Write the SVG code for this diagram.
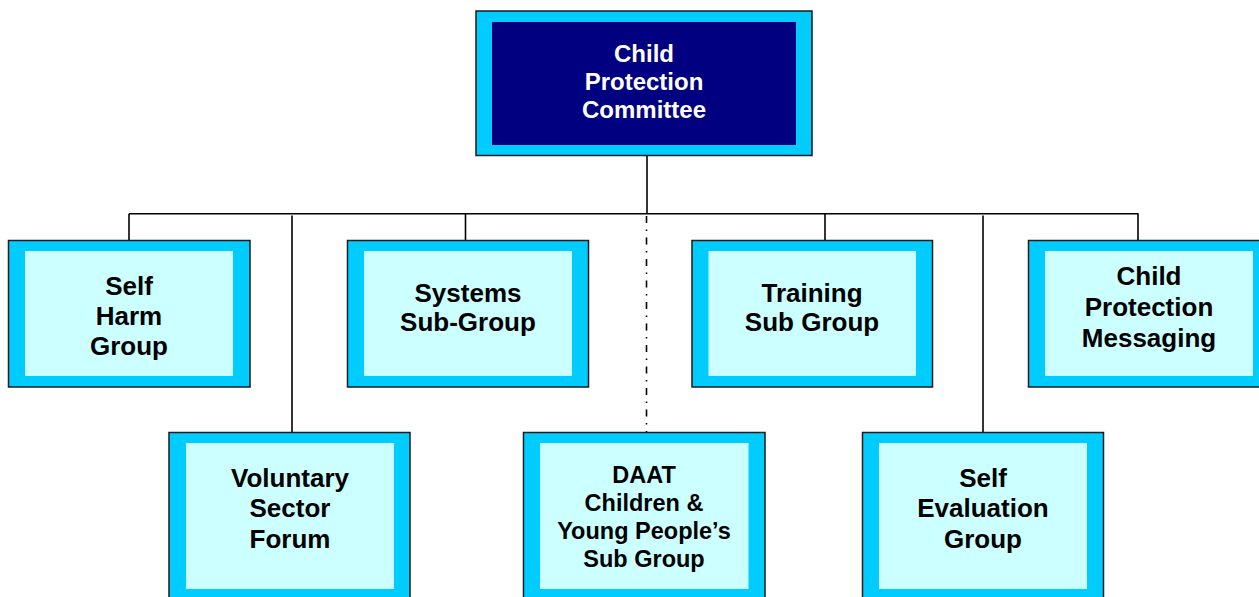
<svg xmlns="http://www.w3.org/2000/svg" width="1259" height="597" viewBox="0 0 1259 597">
<style>
.outer{fill:#00CCFF;stroke:#1a1a1a;stroke-width:1.5}
.inner{fill:#CCFFFF}
.top{fill:#000080}
.ln{stroke:#000;stroke-width:1.6;fill:none}
.dd{stroke:#000;stroke-width:1.6;fill:none;stroke-dasharray:7 6.5 1.5 6.5}
text{font-family:"Liberation Sans",Arial,sans-serif;font-weight:bold;text-anchor:middle;fill:#000}
.t26{font-size:26px}
.t24{font-size:24px}
.t23{font-size:23.5px}
.w{fill:#fff}
</style>
<rect width="1259" height="597" fill="#fff"/>
<g id="connectors">
<line class="ln" x1="647" y1="155.5" x2="647" y2="214"/>
<line class="ln" x1="129" y1="213.7" x2="1138.5" y2="213.7"/>
<line class="ln" x1="129" y1="213.7" x2="129" y2="240.5"/>
<line class="ln" x1="465.5" y1="213.7" x2="465.5" y2="240.5"/>
<line class="ln" x1="825" y1="213.7" x2="825" y2="240.5"/>
<line class="ln" x1="1138" y1="213.7" x2="1138" y2="240.5"/>
<line class="ln" x1="292" y1="215.5" x2="292" y2="432.5"/>
<line class="ln" x1="983" y1="215.5" x2="983" y2="432.5"/>
<line class="dd" x1="646.5" y1="216" x2="646.5" y2="432"/>
</g>
<g id="cpc">
<rect class="outer" x="476" y="11" width="336" height="144.5"/>
<rect class="top" x="492" y="22" width="304" height="123"/>
<text class="t24 w" x="644" y="62">Child</text>
<text class="t24 w" x="644" y="90">Protection</text>
<text class="t24 w" x="644" y="118">Committee</text>
</g>
<g id="selfharm">
<rect class="outer" x="8.5" y="240.5" width="241.5" height="146.5"/>
<rect class="inner" x="25" y="251" width="208" height="125"/>
<text class="t26" x="129" y="295">Self</text>
<text class="t26" x="129" y="325">Harm</text>
<text class="t26" x="129" y="355">Group</text>
</g>
<g id="systems">
<rect class="outer" x="347.5" y="240.5" width="241" height="146.5"/>
<rect class="inner" x="364" y="251" width="208" height="125"/>
<text class="t26" x="468" y="301.5">Systems</text>
<text class="t26" x="468" y="330.5">Sub-Group</text>
</g>
<g id="training">
<rect class="outer" x="692" y="240.5" width="240.5" height="146.5"/>
<rect class="inner" x="708.5" y="251" width="207.5" height="125"/>
<text class="t26" x="812" y="301.5">Training</text>
<text class="t26" x="812" y="330.5">Sub Group</text>
</g>
<g id="cpm">
<rect class="outer" x="1028.5" y="240.5" width="242" height="146.5"/>
<rect class="inner" x="1045" y="251" width="208" height="125"/>
<text class="t26" x="1149" y="285">Child</text>
<text class="t26" x="1149" y="316">Protection</text>
<text class="t26" x="1149" y="346.5">Messaging</text>
</g>
<g id="voluntary">
<rect class="outer" x="169" y="432.5" width="241" height="168"/>
<rect class="inner" x="186" y="443" width="208" height="146"/>
<text class="t26" x="290" y="486.5">Voluntary</text>
<text class="t26" x="290" y="516.5">Sector</text>
<text class="t26" x="290" y="548">Forum</text>
</g>
<g id="daat">
<rect class="outer" x="523.5" y="432.5" width="241.5" height="168"/>
<rect class="inner" x="540" y="443" width="208.5" height="146"/>
<text class="t23" x="644" y="483">DAAT</text>
<text class="t23" x="644" y="511">Children &amp;</text>
<text class="t23" x="644" y="538.5">Young People’s</text>
<text class="t23" x="644" y="566.5">Sub Group</text>
</g>
<g id="selfeval">
<rect class="outer" x="862.5" y="432.5" width="241" height="168"/>
<rect class="inner" x="879" y="443" width="208" height="146"/>
<text class="t26" x="983" y="486.5">Self</text>
<text class="t26" x="983" y="516.5">Evaluation</text>
<text class="t26" x="983" y="548">Group</text>
</g>
</svg>
